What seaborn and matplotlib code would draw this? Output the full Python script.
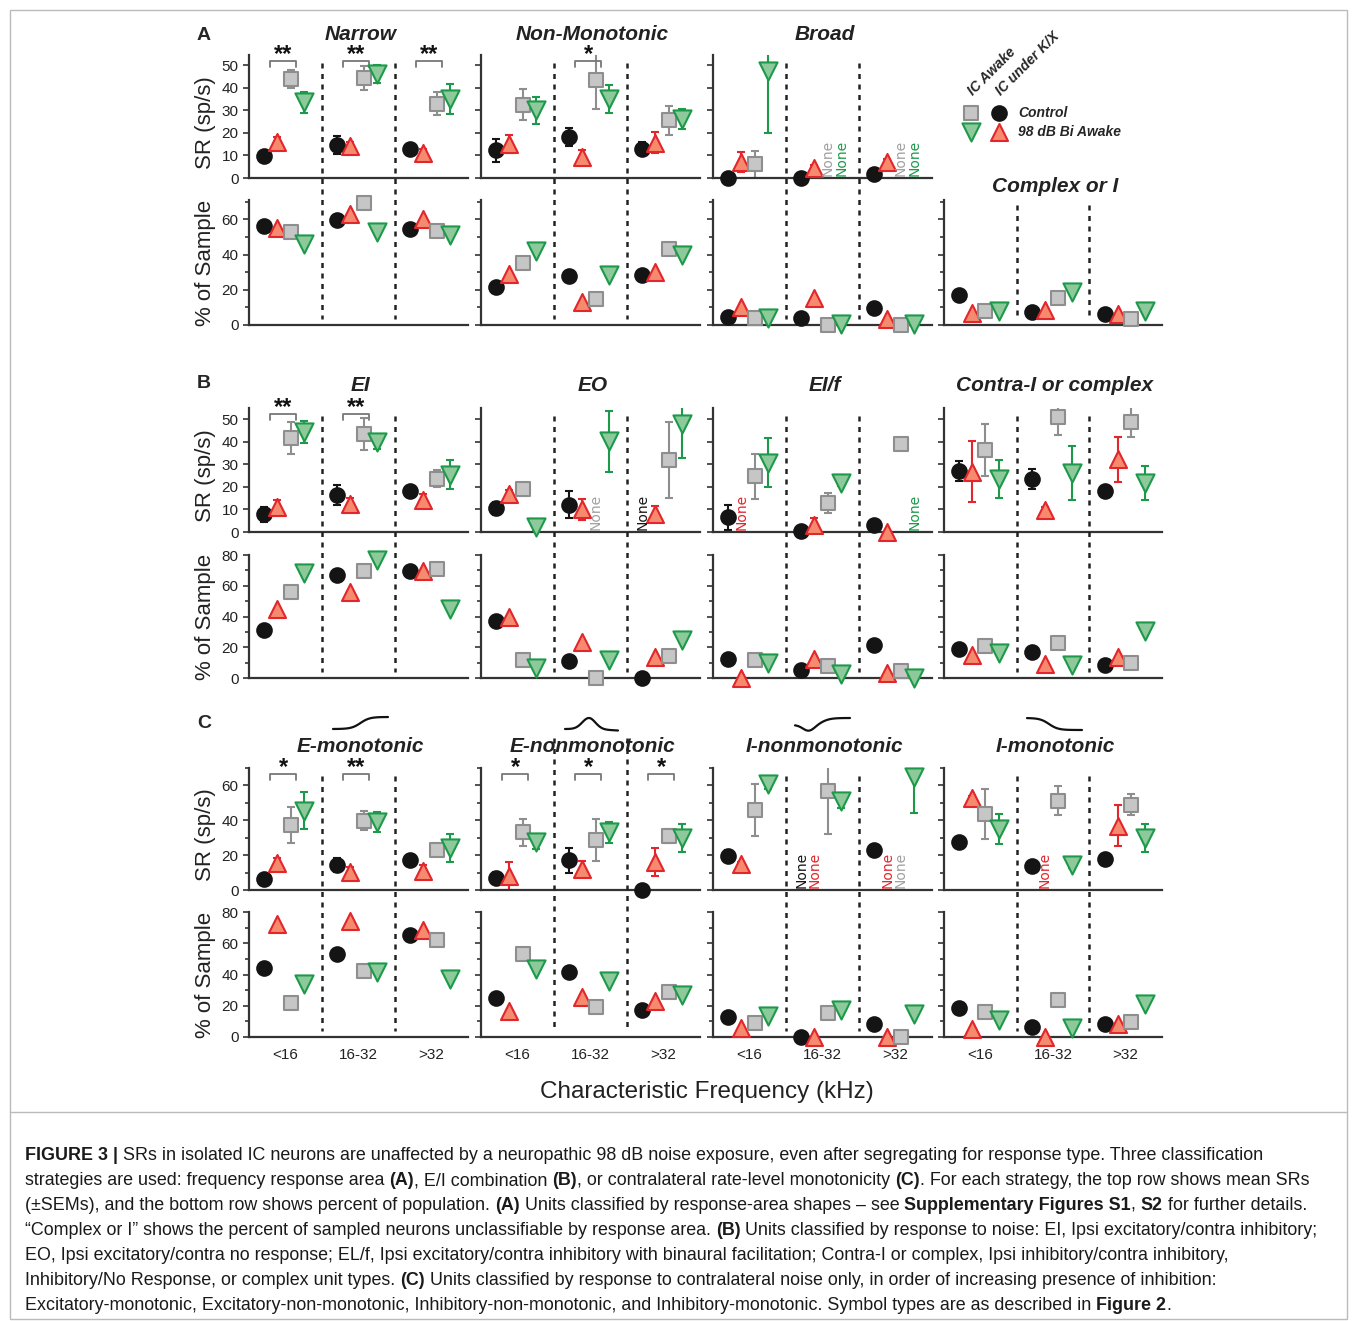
import numpy as np
import pandas as pd
import seaborn as sns
import matplotlib.pyplot as plt
from matplotlib.lines import Line2D
from matplotlib.patches import Rectangle
from matplotlib.ticker import MultipleLocator

sns.set_style("ticks")
plt.rcParams['font.family'] = ['Liberation Sans', 'DejaVu Sans']

GROUPS = ["<16", "16-32", ">32"]
SERIES = ["Awake control", "Awake 98 dB", "K/X control", "K/X 98 dB"]
nan = np.nan

# ---- A: response area ----
NARROW_SR = [[9.6, 14.7, 13], [16, 14, 11], [44, 44.3, 33], [33.5, 46, 35]]
NARROW_ERR = [[0, 4, 0], [2, 2, 2], [4, 5.5, 5], [4.5, 4, 6.5]]
NARROW_PCT = [[56, 59.4, 54.5], [55, 63, 60], [52.6, 69.5, 53.3], [46, 53, 51]]
NONMONO_SR = [[12.3, 18, 13], [15, 9.3, 15.7], [32.5, 43.4, 25.5], [30, 35, 26]]
NONMONO_ERR = [[5, 4, 3], [4, 3, 4.5], [7, 13, 6.5], [6, 6, 4.5]]
NONMONO_PCT = [[21.7, 28, 28.6], [29, 12.8, 30], [35, 15, 43], [42, 28.5, 40]]
BROAD_SR = [[0, 0, 1.8], [7, 4.3, 7], [6, nan, nan], [47.5, nan, nan]]
BROAD_ERR = [[0, 0, 0], [4.5, 1.5, 1.5], [6, 0, 0], [27.5, 0, 0]]
BROAD_PCT = [[4.6, 3.8, 9.5], [10, 15.6, 3.6], [3.8, 0, 0], [4.2, 0.8, 0.8]]
COMPLEXI_PCT = [[17, 7.6, 6], [6.7, 8.8, 6.5], [8, 15.2, 3.6], [8, 18.5, 8]]

# ---- B: E/I combination ----
EI_SR = [[7.8, 16.5, 18.1], [11, 12.3, 14], [41.6, 43.4, 23.6], [44.3, 40, 25.5]]
EI_ERR = [[3.5, 4.5, 0], [3, 3, 3], [7, 7, 3.8], [5, 3, 6.5]]
EI_PCT = [[31, 66.7, 69.5], [45, 55.8, 69.5], [56, 69.5, 71], [68, 77, 45]]
EO_SR = [[10.5, 12, nan], [16.8, 10, 8], [18.9, nan, 32], [2.4, 40.3, 48]]
EO_ERR = [[3, 6, 0], [2, 4.5, 3.5], [3, 0, 17], [1.5, 13.5, 15]]
EO_PCT = [[37.3, 11, 0], [40, 23.7, 13.5], [11.8, 0, 14.4], [6.8, 11.8, 25]]
EIF_SR = [[6.6, 0.3, 3.3], [nan, 3.3, 0], [24.8, 12.9, 39.2], [30.8, 21.6, nan]]
EIF_ERR = [[5.5, 0, 0], [0, 3, 0], [10, 4.5, 1], [11, 1, 0]]
EIF_PCT = [[12.2, 5.2, 21.6], [0, 12.2, 3.5], [11.8, 7.8, 4.8], [9.6, 2.6, 0]]
CONTRA_SR = [[27.2, 23.6, 18], [26.8, 9.9, 32.3], [36.5, 51, 48.8], [23.4, 26, 21.6]]
CONTRA_ERR = [[4.5, 4.5, 2], [13.5, 1, 10], [11.5, 8, 6.5], [8.5, 12, 7.5]]
CONTRA_PCT = [[18.7, 16.6, 8.7], [15, 9.2, 13.5], [20.5, 23, 9.6], [16, 8.5, 30.3]]

# ---- C: contralateral rate-level ----
EMONO_SR = [[6.3, 14.4, 17.2], [15.3, 10.2, 11.1], [37.4, 39.7, 23.2], [45.6, 39, 24]]
EMONO_ERR = [[0, 4, 0], [3, 3, 3], [10.5, 5.5, 3.5], [10.5, 6, 8]]
EMONO_PCT = [[44, 52.9, 65.6], [72.6, 74.5, 68.6], [22, 42.4, 62], [33.7, 41.3, 37]]
ENON_SR = [[7.1, 17, 0.2], [7.9, 12, 15.9], [33, 28.5, 31], [27.8, 33, 30]]
ENON_ERR = [[3, 7, 0], [8, 4.5, 8], [7.5, 12, 4], [4.5, 6, 8]]
ENON_PCT = [[25, 41.3, 17.5], [16.8, 25.8, 23], [53.3, 19.2, 28.9], [43.5, 35.8, 27]]
INON_SR = [[19.7, nan, 23], [15, nan, nan], [46, 57, nan], [61, 51.3, 65]]
INON_ERR = [[3, 0, 0], [1, 0, 0], [15, 25, 0], [3, 4.5, 21]]
INON_PCT = [[12.5, 0, 8.5], [5.7, 0, 0.2], [9.2, 15.5, 0], [13.5, 17.3, 15]]
IMONO_SR = [[27.4, 13.6, 17.8], [52.7, nan, 37], [43.7, 51.3, 48.9], [35, 14.4, 29.7]]
IMONO_ERR = [[3, 0, 0], [1, 0, 12], [14.5, 8.5, 6], [8.5, 2, 8]]
IMONO_PCT = [[18.8, 6.1, 8.5], [5.2, 0.2, 8.5], [15.7, 23.6, 9.6], [10.7, 5.7, 21.2]]

# missing cells: (group, series)
NONE_MARKS = {
    "Broad": [(1, 2), (1, 3), (2, 2), (2, 3)],
    "EO": [(1, 2), (2, 0)],
    "EI/f": [(0, 1), (2, 3)],
    "I-nonmonotonic": [(1, 0), (1, 1), (2, 1), (2, 2)],
    "I-monotonic": [(1, 1)],
}
# significance stars per group
STARS = {
    "Narrow": ["**", "**", "**"], "Non-Monotonic": ["", "*", ""],
    "EI": ["**", "**", ""], "E-monotonic": ["*", "**", ""],
    "E-nonmonotonic": ["*", "*", "*"],
}

OFFS = [0.21, 0.39, 0.57, 0.76]
MARK = ["o", "^", "s", "v"]
SIZE = [110, 150, 95, 170]
FACE = ["#141414", "#f58a6e", "#c6c6c6", "#8dc99b"]
EDGE = ["#141414", "#e3262b", "#8e8e8e", "#1c9a4a"]

W, H = 1357, 1321
fig = plt.figure(figsize=(W / 100, H / 100), dpi=100)

def fx(p):
    return p / W

def fy(p):
    return 1 - p / H

COLS = [(249, 468), (481, 700), (713, 932), (944, 1162)]

def make_ax(col, top, bot, ymax, major, minor, labels):
    L, R = COLS[col]
    ax = fig.add_axes([fx(L), fy(bot), fx(R) - fx(L), (bot - top) / H])
    ax.set_xlim(0, 3)
    ax.set_ylim(0, ymax)
    sns.despine(ax=ax)
    for s in ("left", "bottom"):
        ax.spines[s].set_linewidth(1.6)
        ax.spines[s].set_color("#333333")
    ax.set_xticks([])
    ax.yaxis.set_major_locator(MultipleLocator(major))
    ax.yaxis.set_minor_locator(MultipleLocator(minor))
    ax.tick_params(axis="y", which="major", length=4, width=1.2, labelsize=11, colors="#333333", labelcolor="#222222")
    ax.tick_params(axis="y", which="minor", length=3, width=1.2, colors="#333333")
    if not labels:
        ax.set_yticklabels([])
    ax.set_facecolor("none")
    return ax

def draw(ax, vals, errs=None):
    for i in range(4):
        x = np.arange(3) + OFFS[i]
        y = np.array(vals[i], dtype=float)
        if errs is not None:
            e = np.array(errs[i], dtype=float)
            ok = ~np.isnan(y) & (e > 0)
            ax.errorbar(x[ok], y[ok], yerr=e[ok], fmt="none", ecolor=EDGE[i],
                        elinewidth=1.5, capsize=3, capthick=1.5, zorder=2)
        df = pd.DataFrame({"x": x, "y": y}).dropna()
        sns.scatterplot(data=df, x="x", y="y", ax=ax, marker=MARK[i], s=SIZE[i],
                        color=FACE[i], edgecolor=EDGE[i], linewidth=1.5, zorder=3,
                        clip_on=False, legend=False)
    ax.set_xlabel("")
    ax.set_ylabel("")

def none_labels(ax, name):
    for g, i in NONE_MARKS.get(name, []):
        ax.text(g + OFFS[i], 0.015, "None", transform=ax.get_xaxis_transform(),
                rotation=90, ha="center", va="bottom", fontsize=10, color=EDGE[i]
                if i != 2 else "#a0a0a0", family="DejaVu Sans")

def stars(ax, name):
    for g, s in enumerate(STARS.get(name, [""] * 3)):
        if not s:
            continue
        x0, x1 = g + 0.29, g + 0.65
        tr = ax.get_xaxis_transform()
        ax.plot([x0, x0, x1, x1], [0.9, 0.95, 0.95, 0.9], transform=tr,
                color="#777777", lw=1.3, clip_on=False)
        ax.text((x0 + x1) / 2, 1.0, s, transform=tr, ha="center", va="center",
                fontsize=17, fontweight="bold", color="#111111")

def dividers(col, top, bot):
    L, R = COLS[col]
    for g in (1, 2):
        x = L + (R - L) * g / 3
        fig.add_artist(Line2D([fx(x), fx(x)], [fy(top), fy(bot)], color="#222222",
                              lw=1.8, linestyle=(0, (2, 2.2))))

SECTIONS = [
    ("A", 36, (55, 178, 54.5, 10, 10), (200, 325, 71, 20, 10), 34,
     [("Narrow", NARROW_SR, NARROW_ERR, NARROW_PCT),
      ("Non-Monotonic", NONMONO_SR, NONMONO_ERR, NONMONO_PCT),
      ("Broad", BROAD_SR, BROAD_ERR, BROAD_PCT),
      ("Complex or I", None, None, COMPLEXI_PCT)]),
    ("B", 383, (408, 532, 55, 10, 10), (555, 678, 80, 20, 10), 386,
     [("EI", EI_SR, EI_ERR, EI_PCT), ("EO", EO_SR, EO_ERR, EO_PCT),
      ("EI/f", EIF_SR, EIF_ERR, EIF_PCT),
      ("Contra-I or complex", CONTRA_SR, CONTRA_ERR, CONTRA_PCT)]),
    ("C", 723, (768, 890, 70, 20, 10), (912, 1037, 80, 20, 10), 746,
     [("E-monotonic", EMONO_SR, EMONO_ERR, EMONO_PCT),
      ("E-nonmonotonic", ENON_SR, ENON_ERR, ENON_PCT),
      ("I-nonmonotonic", INON_SR, INON_ERR, INON_PCT),
      ("I-monotonic", IMONO_SR, IMONO_ERR, IMONO_PCT)]),
]

for letter, ly, srr, pcr, ty, panels in SECTIONS:
    fig.text(fx(197), fy(ly), letter, fontsize=14, fontweight="bold", va="center")
    for c, (name, sr, err, pct) in enumerate(panels):
        L, R = COLS[c]
        if sr is not None:
            ax = make_ax(c, srr[0], srr[1], srr[2], srr[3], srr[4], c == 0)
            draw(ax, sr, err)
            none_labels(ax, name)
            stars(ax, name)
            top_div = srr[0] + 8
        else:
            top_div = pcr[0] + 5
        if letter == "C" and c == 1:
            top_div = ty - 8
        axp = make_ax(c, pcr[0], pcr[1], pcr[2], pcr[3], pcr[4], c == 0)
        draw(axp, pct)
        if letter == "C":
            axp.set_xticks([0.5, 1.5, 2.5])
            axp.set_xticklabels(GROUPS, fontsize=11, color="#222222")
            axp.tick_params(axis="x", length=0, pad=8)
        dividers(c, top_div, pcr[1] - 6)
        t_y = 187 if name == "Complex or I" else ty
        fig.text(fx((L + R) / 2 + 2), fy(t_y), name, fontsize=15, fontweight="bold",
                 style="italic", ha="center", va="center", color="#222222")
        if c == 0:
            fig.text(fx(205), fy((srr[0] + srr[1]) / 2 + 6), "SR (sp/s)", rotation=90,
                     fontsize=16, ha="center", va="center", color="#222222")
            fig.text(fx(205), fy((pcr[0] + pcr[1]) / 2), "% of Sample", rotation=90,
                     fontsize=16, ha="center", va="center", color="#222222")

# rate-level sketches above section C titles
t = np.linspace(-1, 1, 60)
sketches = [
    (333, 388, 729 - 12 * (np.tanh(3 * t) + 1) / 2),
    (565, 618, 729 - 11 * np.exp(-((t + 0.1) / 0.35) ** 2) + 1.5 * (t > 0) * t),
    (795, 850, 722 + 6 * np.exp(-((t + 0.5) / 0.3) ** 2) - 7 * (np.tanh(3 * t) + 1) / 2 + 3),
    (1027, 1082, 718 + 12 * (np.tanh(3 * (t + 0.2)) + 1) / 2),
]
for x0, x1, yy in sketches:
    xx = np.linspace(x0, x1, len(t))
    fig.add_artist(Line2D(fx(xx), fy(yy), color="#111111", lw=1.6))

# legend
fig.text(fx(975), fy(98), "IC Awake", rotation=45, fontsize=10, fontweight="bold",
         style="italic", ha="left", va="bottom", rotation_mode="anchor")
fig.text(fx(1003), fy(98), "IC under K/X", rotation=45, fontsize=10, fontweight="bold",
         style="italic", ha="left", va="bottom", rotation_mode="anchor")
lax = fig.add_axes([fx(960), fy(142), fx(1130) - fx(960), 40 / H])
lax.set_xlim(960, 1130)
lax.set_ylim(142, 102)
lax.axis("off")
leg = pd.DataFrame({"x": [971, 999, 971, 999], "y": [113, 113, 132, 132]})
for i, (m, k) in enumerate([(2, 0), (0, 1), (3, 2), (1, 3)]):
    sns.scatterplot(data=leg.iloc[[k]], x="x", y="y", ax=lax, marker=MARK[m], s=SIZE[m],
                    color=FACE[m], edgecolor=EDGE[m], linewidth=1.5, legend=False, clip_on=False)
lax.text(1018, 113, "Control", fontsize=10, fontweight="bold", style="italic", va="center")
lax.text(1018, 132, "98 dB Bi Awake", fontsize=10, fontweight="bold", style="italic", va="center")

fig.text(fx(707), fy(1092), "Characteristic Frequency (kHz)", fontsize=17.5, ha="center",
         va="center", color="#222222")

# frame
fig.add_artist(Rectangle((fx(10), fy(1319)), fx(1337), 1309 / H, fill=False,
                         edgecolor="#bbbbbb", lw=1.0))
fig.add_artist(Line2D([fx(10), fx(1347)], [fy(1112), fy(1112)], color="#bbbbbb", lw=1.0))

# caption with bold runs
CAPTION = [
    [("FIGURE 3 | ", True), ("SRs in isolated IC neurons are unaffected by a neuropathic 98 dB noise exposure, even after segregating for response type. Three classification", False)],
    [("strategies are used: frequency response area ", False), ("(A)", True), (", E/I combination ", False), ("(B)", True), (", or contralateral rate-level monotonicity ", False), ("(C)", True), (". For each strategy, the top row shows mean SRs", False)],
    [("(±SEMs), and the bottom row shows percent of population. ", False), ("(A)", True), (" Units classified by response-area shapes – see ", False), ("Supplementary Figures S1", True), (", ", False), ("S2", True), (" for further details.", False)],
    [("“Complex or I” shows the percent of sampled neurons unclassifiable by response area. ", False), ("(B)", True), (" Units classified by response to noise: EI, Ipsi excitatory/contra inhibitory;", False)],
    [("EO, Ipsi excitatory/contra no response; EL/f, Ipsi excitatory/contra inhibitory with binaural facilitation; Contra-I or complex, Ipsi inhibitory/contra inhibitory,", False)],
    [("Inhibitory/No Response, or complex unit types. ", False), ("(C)", True), (" Units classified by response to contralateral noise only, in order of increasing presence of inhibition:", False)],
    [("Excitatory-monotonic, Excitatory-non-monotonic, Inhibitory-non-monotonic, and Inhibitory-monotonic. Symbol types are as described in ", False), ("Figure 2", True), (".", False)],
]
renderer = fig.canvas.get_renderer()
for k, line in enumerate(CAPTION):
    x = fx(25)
    y = fy(1160 + 25 * k)
    for txt, bold in line:
        tt = fig.text(x, y, txt, fontsize=12.9, fontweight="bold" if bold else "normal",
                      va="baseline", ha="left", color="#1a1a1a")
        bb = tt.get_window_extent(renderer=renderer)
        x = bb.x1 / W

fig.savefig("out.png", dpi=100)
